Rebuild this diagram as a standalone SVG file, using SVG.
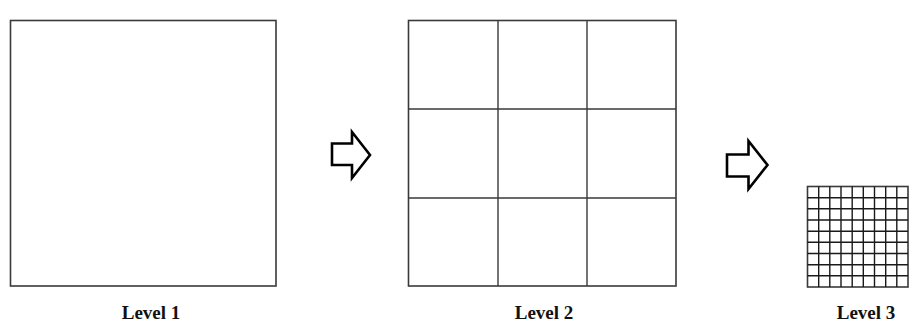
<svg xmlns="http://www.w3.org/2000/svg" width="909" height="325" viewBox="0 0 909 325">
<style>
.box{fill:#fff;stroke:#3a3a3a;stroke-width:1.6}
.grid{stroke:#3a3a3a;stroke-width:1.4;fill:none}
.fine{stroke:#1a1a1a;stroke-width:1.4;fill:none}
.arrow{fill:#fff;stroke:#000;stroke-width:2.6;stroke-linejoin:miter}
.lbl{font-family:"Liberation Serif","Times New Roman",serif;font-weight:bold;font-size:19px;fill:#111;text-anchor:middle}
</style>
<rect width="909" height="325" fill="#fff"/>
<g id="level1">
<rect class="box" x="10.5" y="20.5" width="265.5" height="265.5"/>
<text class="lbl" x="151" y="319">Level 1</text>
</g>
<g id="level2">
<rect class="box" x="408.5" y="20.5" width="267.5" height="265.5"/>
<path class="grid" d="M498 20.5V286M587 20.5V286M408.5 109H676M408.5 198H676"/>
<text class="lbl" x="544" y="319">Level 2</text>
</g>
<g id="level3">
<rect class="box" x="807.5" y="186.5" width="100.5" height="100.5"/>
<path class="fine" d="M818.7 186.5V287M829.8 186.5V287M841 186.5V287M852.2 186.5V287M863.3 186.5V287M874.5 186.5V287M885.7 186.5V287M896.8 186.5V287M807.5 197.7H908M807.5 208.8H908M807.5 220H908M807.5 231.2H908M807.5 242.3H908M807.5 253.5H908M807.5 264.7H908M807.5 275.8H908"/>
<text class="lbl" x="866" y="319">Level 3</text>
</g>
<g id="connectors">
<path class="arrow" d="M332 143.5H352V132L370 155L352 178V165H332Z"/>
<path class="arrow" d="M727 154.5H748.5V141L767.5 165L748.5 189V176.5H727Z"/>
</g>
</svg>
